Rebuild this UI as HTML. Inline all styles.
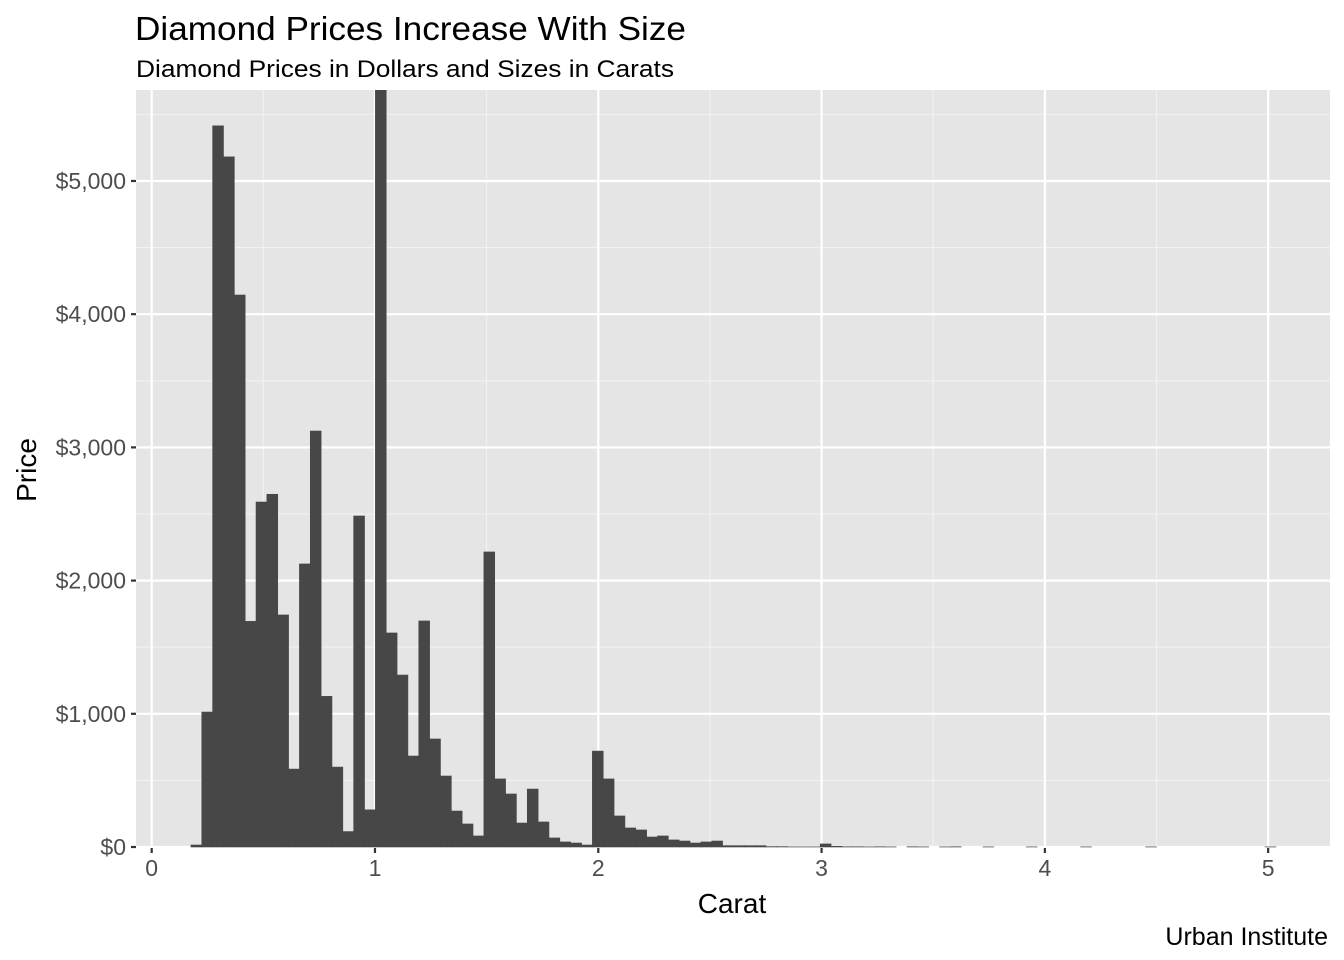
<!DOCTYPE html>
<html><head><meta charset="utf-8">
<style>
html,body{margin:0;padding:0;background:#fff;}
svg{display:block;font-family:"Liberation Sans",Arial,sans-serif;}
</style></head>
<body>
<svg id="chart" width="1344" height="960" viewBox="0 0 1344 960">
  <text x="135" y="40" font-size="33" fill="#000" textLength="551" lengthAdjust="spacingAndGlyphs">Diamond Prices Increase With Size</text>
  <text x="136" y="77" font-size="24" fill="#000" textLength="538" lengthAdjust="spacingAndGlyphs">Diamond Prices in Dollars and Sizes in Carats</text>
  <rect x="136" y="90" width="1194" height="758" fill="#e5e5e5"/>
  <g id="grid"></g>
  <g id="bars"></g>
  <g id="axes"></g>
  <text x="732" y="913" font-size="28" text-anchor="middle" fill="#000">Carat</text>
  <text x="0" y="0" font-size="28" text-anchor="middle" fill="#000" transform="translate(36,470) rotate(-90)">Price</text>
  <text x="1328" y="945" font-size="25" text-anchor="end" fill="#000">Urban Institute</text>
</svg>
<script>
const binStart = 0.2;
const binWidth = 0.04859;
const counts = [15,1013,5414,5181,4144,1694,2590,2648,1742,585,2125,3123,1131,600,116,2485,279,6500,1607,1291,683,1697,811,533,270,173,83,2215,511,398,180,435,188,68,38,30,15,720,511,233,143,128,75,83,53,45,30,38,45,10,10,10,10,3,3,1,1,1,23,5,2,2,1,2,1,0,2,1,0,1,2,0,0,1,0,0,0,1,0,0,0,0,1,0,0,0,0,0,1,0,0,0,0,0,0,0,0,0,0,1];
const xTicks = [0,1,2,3,4,5];
const yTicks = [0,1000,2000,3000,4000,5000];
const yTickLabels = ["$0","$1,000","$2,000","$3,000","$4,000","$5,000"];

const NS="http://www.w3.org/2000/svg";
const PL=136,PR=1330,PT=90,PB=848;
const xMin=-0.0703,xMax=5.277,yMin=-7.5,yMax=5683;
const xs=v=>PL+(v-xMin)/(xMax-xMin)*(PR-PL);
const ys=v=>PB-(v-yMin)/(yMax-yMin)*(PB-PT);
function mk(tag,attrs,parent){const e=document.createElementNS(NS,tag);for(const k in attrs)e.setAttribute(k,attrs[k]);parent.appendChild(e);return e;}
const grid=document.getElementById('grid'),barsG=document.getElementById('bars'),axes=document.getElementById('axes');
for(let i=0;i<yTicks.length;i++){const v=yTicks[i]+500;if(v<yMax){const l=mk('line',{x1:PL,x2:PR,y1:ys(v),y2:ys(v),stroke:'#f2f2f2','stroke-width':1.1},grid);

}}
for(let i=0;i<xTicks.length;i++){const v=xTicks[i]+0.5;if(v<xMax){const l=mk('line',{x1:xs(v),x2:xs(v),y1:PT,y2:PB,stroke:'#f2f2f2','stroke-width':1.1},grid);

}}
yTicks.forEach((v,i)=>{const y=ys(v);
const l=mk('line',{x1:PL,x2:PR,y1:y,y2:y,stroke:'#fff','stroke-width':2.2},grid);


const t=mk('line',{x1:PL-5,x2:PL,y1:y,y2:y,stroke:'#333','stroke-width':2.2},axes);


const tx=mk('text',{x:PL-10,y:y+8,'font-size':23,'text-anchor':'end',fill:'#4d4d4d'},axes);tx.textContent=yTickLabels[i];

});
xTicks.forEach(v=>{const x=xs(v);
const l=mk('line',{x1:x,x2:x,y1:PT,y2:PB,stroke:'#fff','stroke-width':2.2},grid);


const t=mk('line',{x1:x,x2:x,y1:PB,y2:PB+5,stroke:'#333','stroke-width':2.2},axes);


const tx=mk('text',{x:x,y:PB+28,'font-size':23,'text-anchor':'middle',fill:'#4d4d4d'},axes);tx.textContent=String(v);

});
const clip=mk('clipPath',{id:'pc'},document.getElementById('chart'));mk('rect',{x:PL,y:PT,width:PR-PL,height:PB-PT},clip);
barsG.setAttribute('clip-path','url(#pc)');
counts.forEach((c,k)=>{if(c<=0)return;const cx=binStart+k*binWidth;const x0=xs(cx-binWidth/2),x1=xs(cx+binWidth/2);const y=ys(c);
const r=mk('rect',{x:x0,y:y,width:x1-x0,height:ys(0)-y,fill:'#474747',stroke:'#474747','stroke-width':0.6},barsG);

});
</script>
</body></html>
